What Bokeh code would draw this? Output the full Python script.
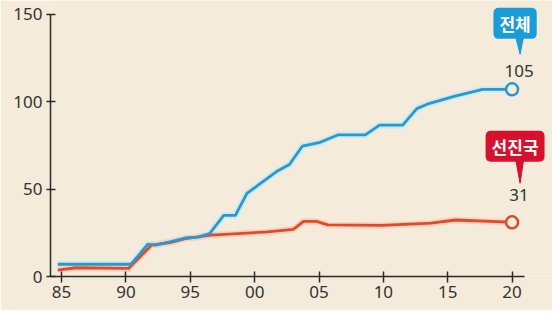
from bokeh.plotting import figure
from bokeh.models import Range1d, FixedTicker, Label
from bokeh.embed import file_html
from bokeh.resources import INLINE

# ---- data ----
years_all = [1984.7, 1990.4, 1991.7, 1992.3, 1993.5, 1994.6, 1995.6, 1996.5, 1997.6, 1998.5,
             1999.4, 2000.4, 2001.7, 2002.7, 2003.7, 2005.0, 2006.5, 2008.6, 2009.7, 2011.5,
             2012.6, 2013.4, 2015.5, 2017.7, 2020.0]
vals_all = [7, 7, 18.5, 18, 20, 22, 22.5, 24.5, 35, 35,
            47.5, 53, 60, 64, 74.5, 76.5, 81, 81, 86.5, 86.5,
            96, 98.5, 103, 107, 107]

years_adv = [1984.7, 1986.1, 1990.2, 1992.0, 1993.5, 1994.6, 1996.6, 2001.0, 2003.0, 2003.8,
             2004.8, 2005.7, 2009.9, 2013.7, 2015.6, 2020.0]
vals_adv = [3.7, 5.0, 4.6, 18, 19.5, 21.7, 23.6, 25.5, 27, 31.5,
            31.5, 29.5, 29.2, 30.5, 32.3, 31]

x_ticks = [1985, 1990, 1995, 2000, 2005, 2010, 2015, 2020]
x_tick_labels = ["85", "90", "95", "00", "05", "10", "15", "20"]
y_ticks = [0, 50, 100, 150]

name_all, name_adv = "전체", "선진국"
label_all, label_adv = "105", "31"

BG = "#f4ebda"
BLUE_LINE = "#2e97c9"
BLUE_HALO = "#c4ebf6"
BLUE_BOX = "#1b9bd7"
RED_LINE = "#e04a2b"
RED_HALO = "#f7cdbb"
RED_BOX = "#d6102d"
AX = "#2a2a2a"
TXT = "#333333"

X0, X1 = 1984.138, 2023.14
Y0, Y1 = 0, 157.8
W, H = 552, 310
BL, BB = 50, 34

p = figure(width=W, height=H, output_backend="svg", toolbar_location=None,
           x_range=Range1d(X0, X1), y_range=Range1d(Y0, Y1),
           min_border_left=BL, min_border_right=0, min_border_top=0, min_border_bottom=BB)
p.background_fill_color = BG
p.border_fill_color = BG
p.outline_line_color = None
p.grid.visible = False

for ax in (p.xaxis, p.yaxis):
    ax.axis_line_color = AX
    ax.axis_line_width = 1.5
    ax.major_tick_line_color = AX
    ax.major_tick_line_width = 1.5
    ax.minor_tick_line_color = None
    ax.major_label_text_color = TXT
    ax.major_label_text_font = "Noto Sans"
    ax.major_label_text_font_size = "17px"

p.xaxis.ticker = FixedTicker(ticks=x_ticks)
p.xaxis.major_label_overrides = {t: l for t, l in zip(x_ticks, x_tick_labels)}
p.xaxis.bounds = (X0, 2021.0)
p.xaxis.major_tick_in = 5
p.xaxis.major_tick_out = 6
p.xaxis.major_label_standoff = 3

p.yaxis.ticker = FixedTicker(ticks=y_ticks)
p.yaxis.bounds = (0, 150)
p.yaxis.major_tick_in = 5
p.yaxis.major_tick_out = 4
p.yaxis.major_label_standoff = 4

# lines with halo
p.line(years_all, vals_all, line_color=BLUE_HALO, line_width=6.5, line_alpha=0.9, line_join="round")
p.line(years_adv, vals_adv, line_color=RED_HALO, line_width=6.5, line_alpha=0.8, line_join="round")
p.line(years_adv, vals_adv, line_color=RED_LINE, line_width=2.8, line_join="round")
p.line(years_all, vals_all, line_color=BLUE_LINE, line_width=2.8, line_join="round")

# end markers
p.scatter([years_all[-1]], [vals_all[-1]], marker="circle", size=12,
          fill_color=BG, line_color=BLUE_LINE, line_width=2.5)
p.scatter([years_adv[-1]], [vals_adv[-1]], marker="circle", size=12,
          fill_color=BG, line_color=RED_LINE, line_width=2.5)

# screen px -> data unit conversions
ppx = (W - BL) / (X1 - X0)
ppy = (H - BB) / (Y1 - Y0)


def callout(x, y, name, num, color, box_dy, tip_dy, base_dy, num_dy):
    tx = x + 8 / ppx
    p.patch([x + 3 / ppx, x + 12 / ppx, tx],
            [y + base_dy / ppy, y + base_dy / ppy, y + tip_dy / ppy],
            fill_color=color, line_color=color)
    p.add_layout(Label(x=x, y=y, x_offset=3, y_offset=box_dy, text=name,
                       text_align="center", text_baseline="middle",
                       text_color="white", text_font="Noto Sans CJK KR",
                       text_font_style="bold", text_font_size="17px",
                       background_fill_color=color, padding=(6, 3),
                       border_radius=5))
    p.add_layout(Label(x=x, y=y, x_offset=7, y_offset=num_dy, text=num,
                       text_align="center", text_baseline="middle",
                       text_color=TXT, text_font="Noto Sans", text_font_size="17px"))


callout(years_all[-1], vals_all[-1], name_all, label_all, BLUE_BOX, 66, 35, 55, 18)
callout(years_adv[-1], vals_adv[-1], name_adv, label_adv, RED_BOX, 76, 39, 66, 27)

open("out.html", "w").write(file_html(p, INLINE))
